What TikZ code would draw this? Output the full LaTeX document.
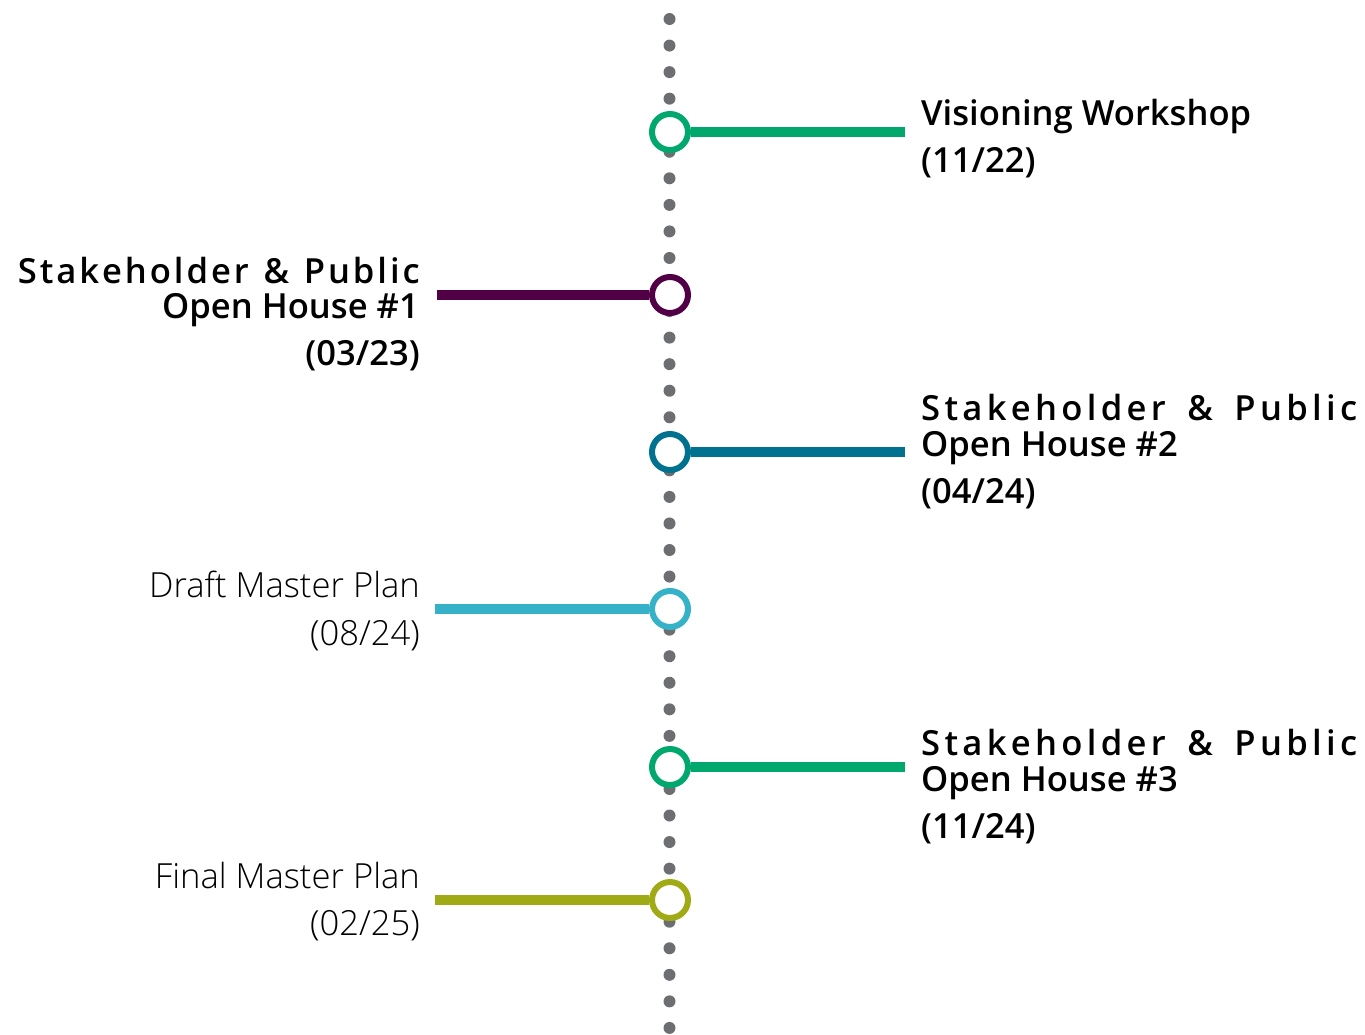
\documentclass[tikz,border=0pt]{standalone}
\usepackage{fontspec}
\setmainfont{Open Sans}
\IfFontExistsTF{Open Sans Semibold}{\newfontfamily\ossb{Open Sans Semibold}}{%
  \IfFontExistsTF{Open Sans SemiBold}{\newfontfamily\ossb{Open Sans SemiBold}}{\newfontfamily\ossb{Open Sans}[FakeBold=1.2]}}
\IfFontExistsTF{Open Sans Light}{\newfontfamily\osl{Open Sans Light}}{\newfontfamily\osl{Open Sans}}
\definecolor{tgreen}{HTML}{00A86E}
\definecolor{tplum}{HTML}{520046}
\definecolor{tteal}{HTML}{00718F}
\definecolor{tcyan}{HTML}{35B1C8}
\definecolor{tolive}{HTML}{9FAA14}
\definecolor{tgray}{HTML}{6D6E71}
\tikzset{
  dotmark/.style={circle,fill=tgray,inner sep=0pt,minimum size=12pt},
  ring/.style={circle,draw=#1,fill=white,line width=6pt,inner sep=0pt,minimum size=36pt},
  bar/.style={draw=#1,line width=10pt},
  semitext/.style={inner sep=0pt,font=\ossb\fontsize{34.6}{40}\selectfont,text=black},
  lighttext/.style={inner sep=0pt,font=\osl\fontsize{34.6}{40}\selectfont,text=black},
}
\newcommand{\spreadSP}{S\hfill t\hfill a\hfill k\hfill e\hfill h\hfill o\hfill l\hfill d\hfill e\hfill r\hfill\hfill\hfill\hfill\hfill \&\hfill\hfill\hfill\hfill\hfill P\hfill u\hfill b\hfill l\hfill i\hfill c}
\begin{document}
\begin{tikzpicture}[x=1pt,y=-1pt]
\useasboundingbox (0,0) rectangle (1365,1034);
% dotted spine
\foreach \i in {0,...,38} {
  \node[dotmark] (d\i) at (669.5,{19+\i*26.55}) {};
}
% rings
\node[ring=tgreen] (c1) at (670,132) {};
\node[ring=tplum]  (c2) at (670,295) {};
\node[ring=tteal]  (c3) at (670,452) {};
\node[ring=tcyan]  (c4) at (670,609) {};
\node[ring=tgreen] (c5) at (670,767) {};
\node[ring=tolive] (c6) at (670,900) {};
% bar ends
\coordinate (e1) at (905,132);
\coordinate (e2) at (437,295);
\coordinate (e3) at (905,452);
\coordinate (e4) at (435,609);
\coordinate (e5) at (905,767);
\coordinate (e6) at (435,900);
\draw[bar=tgreen] (c1.east) -- (e1);
\draw[bar=tplum]  (c2.west) -- (e2);
\draw[bar=tteal]  (c3.east) -- (e3);
\draw[bar=tcyan]  (c4.west) -- (e4);
\draw[bar=tgreen] (c5.east) -- (e5);
\draw[bar=tolive] (c6.west) -- (e6);
% labels
\node[semitext,anchor=base west] (t1a) at (921,125) {Visioning Workshop};
\node[semitext,anchor=base west] (t1b) at (921,172) {(11/22)};

\node[semitext,anchor=base east] (t2a) at (420,283) {\makebox[402pt][s]{\spreadSP}};
\node[semitext,anchor=base east] (t2b) at (419,318) {Open House \#1};
\node[semitext,anchor=base east] (t2c) at (420,365) {(03/23)};

\node[semitext,anchor=base west] (t3a) at (921,420) {\makebox[436pt][s]{\spreadSP}};
\node[semitext,anchor=base west] (t3b) at (921,456) {Open House \#2};
\node[semitext,anchor=base west] (t3c) at (921,503) {(04/24)};

\node[lighttext,anchor=base east] (t4a) at (420,597) {Draft Master Plan};
\node[lighttext,anchor=base east] (t4b) at (420,645) {(08/24)};

\node[semitext,anchor=base west] (t5a) at (921,755) {\makebox[436pt][s]{\spreadSP}};
\node[semitext,anchor=base west] (t5b) at (921,791) {Open House \#3};
\node[semitext,anchor=base west] (t5c) at (921,838) {(11/24)};

\node[lighttext,anchor=base east] (t6a) at (420,888) {Final Master Plan};
\node[lighttext,anchor=base east] (t6b) at (420,935) {(02/25)};
\end{tikzpicture}
\end{document}
